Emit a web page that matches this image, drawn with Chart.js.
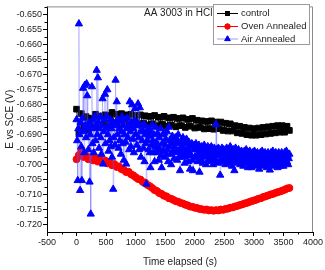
<!DOCTYPE html>
<html>
<head>
<meta charset="utf-8">
<script src="https://cdn.jsdelivr.net/npm/chart.js@4"></script>
<style>
  body { margin: 0; background: #fff; }
  canvas { display: block; }
</style>
</head>
<body>
<canvas id="myChart" width="325" height="270"></canvas>
<script>
// Tempos (s) para control e oven annealed
const time = [0, 40, 80, 120, 160, 200, 240, 280, 320, 360, 400, 440, 480, 520, 560, 600, 640, 680, 720, 760,
  800, 840, 880, 920, 960, 1000, 1040, 1080, 1120, 1160, 1200, 1240, 1280, 1320, 1360, 1400, 1440, 1480, 1520, 1560,
  1600, 1640, 1680, 1720, 1760, 1800, 1840, 1880, 1920, 1960, 2000, 2040, 2080, 2120, 2160, 2200, 2240, 2280, 2320, 2360,
  2400, 2440, 2480, 2520, 2560, 2600, 2640, 2680, 2720, 2760, 2800, 2840, 2880, 2920, 2960, 3000, 3040, 3080, 3120, 3160,
  3200, 3240, 3280, 3320, 3360, 3400, 3440, 3480, 3520, 3560, 3600];

// Tempos (s) para air annealed
const timeAir = [
  0, 10, 20, 30, 40, 50, 60, 70, 80, 90,
  100, 110, 120, 130, 140, 150, 160, 170, 180, 190,
  200, 210, 220, 230, 240, 250, 260, 270, 280, 290,
  300, 310, 320, 330, 340, 350, 360, 370, 380, 390,
  400, 410, 420, 430, 440, 450, 460, 470, 480, 490,
  500, 510, 520, 530, 540, 550, 560, 570, 580, 590,
  600, 610, 620, 630, 640, 650, 660, 670, 680, 690,
  700, 710, 720, 730, 740, 750, 760, 770, 780, 790,
  800, 810, 820, 830, 840, 850, 860, 870, 880, 890,
  900, 910, 920, 930, 940, 950, 960, 970, 980, 990,
  1000, 1010, 1020, 1030, 1040, 1050, 1060, 1070, 1080, 1090,
  1100, 1110, 1120, 1130, 1140, 1150, 1160, 1170, 1180, 1190,
  1200, 1210, 1220, 1230, 1240, 1250, 1260, 1270, 1280, 1290,
  1300, 1310, 1320, 1330, 1340, 1350, 1360, 1370, 1380, 1390,
  1400, 1410, 1420, 1430, 1440, 1450, 1460, 1470, 1480, 1490,
  1500, 1510, 1520, 1530, 1540, 1550, 1560, 1570, 1580, 1590,
  1600, 1610, 1620, 1630, 1640, 1650, 1660, 1670, 1680, 1690,
  1700, 1710, 1720, 1730, 1740, 1750, 1760, 1770, 1780, 1790,
  1800, 1810, 1820, 1830, 1840, 1850, 1860, 1870, 1880, 1890,
  1900, 1910, 1920, 1930, 1940, 1950, 1960, 1970, 1980, 1990,
  2000, 2010, 2020, 2030, 2040, 2050, 2060, 2070, 2080, 2090,
  2100, 2110, 2120, 2130, 2140, 2150, 2160, 2170, 2180, 2190,
  2200, 2210, 2220, 2230, 2240, 2250, 2260, 2270, 2280, 2290,
  2300, 2310, 2320, 2330, 2340, 2350, 2360, 2370, 2380, 2390,
  2400, 2410, 2420, 2430, 2440, 2450, 2460, 2470, 2480, 2490,
  2500, 2510, 2520, 2530, 2540, 2550, 2560, 2570, 2580, 2590,
  2600, 2610, 2620, 2630, 2640, 2650, 2660, 2670, 2680, 2690,
  2700, 2710, 2720, 2730, 2740, 2750, 2760, 2770, 2780, 2790,
  2800, 2810, 2820, 2830, 2840, 2850, 2860, 2870, 2880, 2890,
  2900, 2910, 2920, 2930, 2940, 2950, 2960, 2970, 2980, 2990,
  3000, 3010, 3020, 3030, 3040, 3050, 3060, 3070, 3080, 3090,
  3100, 3110, 3120, 3130, 3140, 3150, 3160, 3170, 3180, 3190,
  3200, 3210, 3220, 3230, 3240, 3250, 3260, 3270, 3280, 3290,
  3300, 3310, 3320, 3330, 3340, 3350, 3360, 3370, 3380, 3390,
  3400, 3410, 3420, 3430, 3440, 3450, 3460, 3470, 3480, 3490,
  3500, 3510, 3520, 3530, 3540, 3550, 3560, 3570, 3580, 3590,
  3600];

// Potencial E vs SCE (V)
const controlE = [
  -0.6815, -0.6895, -0.6830, -0.6875, -0.6840, -0.6885, -0.6845, -0.6868, -0.6832, -0.6875,
  -0.6840, -0.6864, -0.6834, -0.6870, -0.6836, -0.6826, -0.6860, -0.6832, -0.6866, -0.6830,
  -0.6858, -0.6834, -0.6868, -0.6832, -0.6860, -0.6836, -0.6866, -0.6834, -0.6862, -0.6837,
  -0.6868, -0.6839, -0.6864, -0.6836, -0.6871, -0.6842, -0.6866, -0.6839, -0.6872, -0.6844,
  -0.6868, -0.6842, -0.6874, -0.6846, -0.6870, -0.6844, -0.6876, -0.6849, -0.6872, -0.6846,
  -0.6878, -0.6852, -0.6876, -0.6854, -0.6881, -0.6856, -0.6880, -0.6854, -0.6882, -0.6858,
  -0.6880, -0.6858, -0.6886, -0.6862, -0.6888, -0.6864, -0.6888, -0.6870, -0.6894, -0.6872,
  -0.6896, -0.6876, -0.6900, -0.6878, -0.6902, -0.6880, -0.6902, -0.6878, -0.6900, -0.6876,
  -0.6898, -0.6874, -0.6896, -0.6872, -0.6894, -0.6870, -0.6892, -0.6870, -0.6892, -0.6872,
  -0.6886];

const ovenE = [-0.6982, -0.6968, -0.6950, -0.6975, -0.6970, -0.6982, -0.6976, -0.6986, -0.6978, -0.6990,
  -0.6982, -0.6992, -0.6986, -0.6996, -0.6992, -0.7002, -0.6998, -0.7008, -0.7006, -0.7015,
  -0.7018, -0.7025, -0.7024, -0.7032, -0.7036, -0.7042, -0.7048, -0.7050, -0.7058, -0.7060,
  -0.7068, -0.7072, -0.7078, -0.7085, -0.7088, -0.7095, -0.7098, -0.7104, -0.7106, -0.7112,
  -0.7114, -0.7118, -0.7122, -0.7124, -0.7128, -0.7130, -0.7134, -0.7136, -0.7140, -0.7141,
  -0.7144, -0.7145, -0.7148, -0.7149, -0.7151, -0.7150, -0.7153, -0.7152, -0.7154, -0.7152,
  -0.7153, -0.7150, -0.7151, -0.7148, -0.7147, -0.7144, -0.7143, -0.7140, -0.7138, -0.7135,
  -0.7133, -0.7130, -0.7128, -0.7125, -0.7122, -0.7120, -0.7117, -0.7114, -0.7112, -0.7108,
  -0.7106, -0.7103, -0.7100, -0.7098, -0.7095, -0.7092, -0.7090, -0.7087, -0.7084, -0.7080, -0.7078];

const airE = [
  -0.6850, -0.6920, -0.7053, -0.6880, -0.6530, -0.6900, -0.7086, -0.6860, -0.6940, -0.7053,
  -0.6845, -0.6745, -0.6890, -0.6960, -0.6735, -0.6870, -0.6910, -0.6730, -0.6770, -0.6880,
  -0.6950, -0.6860, -0.7058, -0.6900, -0.7165, -0.6870, -0.6740, -0.6930, -0.6850, -0.6960,
  -0.6880, -0.6840, -0.6920, -0.6870, -0.6685, -0.6900, -0.6710, -0.6860, -0.6945, -0.6880,
  -0.6840, -0.6910, -0.6965, -0.6870, -0.6780, -0.6998, -0.6890, -0.6850, -0.6765, -0.6930,
  -0.6880, -0.6840, -0.6750, -0.6900, -0.6955, -0.6870, -0.6920, -0.6850, -0.6940, -0.6880,
  -0.6975, -0.6860, -0.7082, -0.6910, -0.6870, -0.6935, -0.6718, -0.6860, -0.6790, -0.6900,
  -0.6850, -0.6945, -0.6880, -0.6920, -0.6855, -0.6965, -0.6890, -0.6840, -0.6930, -0.6870,
  -0.6985, -0.6900, -0.6850, -0.6925, -0.6998, -0.6880, -0.6845, -0.6910, -0.6870, -0.6950,
  -0.6790, -0.6890, -0.6940, -0.6860, -0.6800, -0.6915, -0.6880, -0.6960, -0.6855, -0.6813,
  -0.6900, -0.6870, -0.6935, -0.6860, -0.6797, -0.6910, -0.6950, -0.6810, -0.6890, -0.6975,
  -0.6870, -0.6920, -0.6885, -0.6945, -0.6865, -0.6990, -0.6900, -0.6930, -0.7065, -0.6895,
  -0.6920, -0.6880, -0.6950, -0.6905, -0.6960, -0.7010, -0.6890, -0.6935, -0.6868, -0.6920,
  -0.6960, -0.6900, -0.6990, -0.6940, -0.6875, -0.6925, -0.6960, -0.6895, -0.6945, -0.6985,
  -0.6910, -0.6950, -0.6880, -0.6970, -0.7010, -0.6930, -0.6900, -0.6955, -0.6895, -0.6975,
  -0.6935, -0.6915, -0.6965, -0.6890, -0.6950, -0.6990, -0.6875, -0.6940, -0.6920, -0.6965,
  -0.7000, -0.6930, -0.6905, -0.6955, -0.6915, -0.6980, -0.6940, -0.6910, -0.6960, -0.6930,
  -0.6985, -0.6920, -0.6900, -0.6955, -0.6975, -0.7020, -0.6945, -0.6925, -0.6965, -0.6940,
  -0.6910, -0.6975, -0.6950, -0.6995, -0.6930, -0.6960, -0.6915, -0.6970, -0.6945, -0.6990,
  -0.6925, -0.6960, -0.7015, -0.6940, -0.6970, -0.6930, -0.6985, -0.7020, -0.6950, -0.6935,
  -0.6975, -0.6950, -0.6930, -0.6975, -0.6945, -0.6990, -0.6960, -0.6935, -0.7025, -0.6970,
  -0.6950, -0.6985, -0.6940, -0.6965, -0.6995, -0.6955, -0.6935, -0.6975, -0.6960, -0.7000,
  -0.6945, -0.6970, -0.6940, -0.6985, -0.6960, -0.6945, -0.6990, -0.6965, -0.6940, -0.6980,
  -0.6955, -0.7000, -0.6970, -0.6945, -0.6985, -0.6960, -0.6866, -0.6950, -0.6990, -0.6965,
  -0.6945, -0.6995, -0.6970, -0.7035, -0.6955, -0.6980, -0.6945, -0.6990, -0.6965, -0.6950,
  -0.6985, -0.6960, -0.7000, -0.6970, -0.6945, -0.6980, -0.6960, -0.6995, -0.6950, -0.6975,
  -0.6940, -0.6985, -0.6960, -0.7005, -0.6975, -0.6950, -0.6990, -0.7020, -0.6965, -0.6945,
  -0.6980, -0.6955, -0.6995, -0.6970, -0.6950, -0.6985, -0.6960, -0.7000, -0.6975, -0.6955,
  -0.6990, -0.6965, -0.7005, -0.6980, -0.6955, -0.6990, -0.6970, -0.6950, -0.6995, -0.6975,
  -0.7010, -0.6960, -0.6985, -0.6955, -0.6995, -0.6970, -0.7010, -0.6980, -0.6960, -0.6995,
  -0.6970, -0.6955, -0.6990, -0.6965, -0.7005, -0.6980, -0.6960, -0.6995, -0.6970, -0.7015,
  -0.6985, -0.6960, -0.7000, -0.6975, -0.6955, -0.6990, -0.6965, -0.7005, -0.6980, -0.6960,
  -0.6995, -0.6970, -0.7010, -0.6985, -0.6960, -0.6995, -0.6975, -0.7018, -0.6985, -0.6960,
  -0.7000, -0.6975, -0.6955, -0.6990, -0.6970, -0.7005, -0.6980, -0.6960, -0.6995, -0.6970,
  -0.7010, -0.6985, -0.6960, -0.6995, -0.6975, -0.7005, -0.6980, -0.6960, -0.6990, -0.6970,
  -0.7005, -0.6985, -0.6960, -0.6995, -0.6975, -0.6955, -0.6990, -0.6970, -0.7000, -0.6980,
  -0.6965];

// Rótulos dos eixos
const xTicks = [-500, 0, 500, 1000, 1500, 2000, 2500, 3000, 3500, 4000];
const yTicks = [-0.650, -0.655, -0.660, -0.665, -0.670, -0.675, -0.680, -0.685, -0.690, -0.695,
  -0.700, -0.705, -0.710, -0.715, -0.720];
const seriesNames = ['control', 'Oven Annealed', 'Air Annealed'];
const noteText = 'AA 3003 in HCl';

const FONT = "'Liberation Sans', Arial, sans-serif";
Chart.defaults.font.family = FONT;
Chart.defaults.color = '#222';

const pts = (xs, ys) => xs.map((x, i) => ({ x: x, y: ys[i] }));

// Marcas menores, moldura, nota e legenda
const extras = {
  id: 'extras',
  afterDraw(chart) {
    const c = chart.ctx;
    const a = chart.chartArea;
    const sx = chart.scales.x, sy = chart.scales.y;
    c.save();
    // moldura superior e direita
    c.strokeStyle = '#8a8a8a';
    c.lineWidth = 1;
    c.beginPath();
    c.moveTo(a.left, a.top + 0.5);
    c.lineTo(a.right - 0.5, a.top + 0.5);
    c.lineTo(a.right - 0.5, a.bottom);
    c.stroke();
    // marcas menores
    c.strokeStyle = '#000';
    c.beginPath();
    for (let i = 0; i < xTicks.length - 1; i++) {
      const px = Math.round(sx.getPixelForValue((xTicks[i] + xTicks[i + 1]) / 2)) + 0.5;
      c.moveTo(px, a.bottom);
      c.lineTo(px, a.bottom + 2.5);
    }
    for (let i = 0; i < yTicks.length - 1; i++) {
      const py = Math.round(sy.getPixelForValue((yTicks[i] + yTicks[i + 1]) / 2)) + 0.5;
      c.moveTo(a.left, py);
      c.lineTo(a.left - 2.5, py);
    }
    const pyTop = Math.round(sy.getPixelForValue(yTicks[0] + 0.0025)) + 0.5;
    if (pyTop > a.top) { c.moveTo(a.left, pyTop); c.lineTo(a.left - 2.5, pyTop); }
    c.stroke();

    // nota
    c.fillStyle = '#222';
    c.font = '10px ' + FONT;
    c.textBaseline = 'middle';
    c.textAlign = 'left';
    c.fillText(noteText, 144, 13);

    // legenda
    const bx = 213, by = 4, bw = 96, bh = 40;
    c.fillStyle = '#fff';
    c.fillRect(bx, by, bw, bh);
    c.strokeStyle = '#9a9a9a';
    c.strokeRect(bx + 0.5, by + 0.5, bw, bh);
    const rows = [13, 26, 38.5];
    const legendRadius = [2.8, 2.6, 3.2];
    const legendLine = ['#000', '#ff0000', 'rgba(90,90,255,0.6)'];
    chart.data.datasets.forEach((ds, i) => {
      const y = rows[i];
      c.strokeStyle = legendLine[i];
      c.lineWidth = 1;
      c.beginPath();
      c.moveTo(217, y + 0.5);
      c.lineTo(238, y + 0.5);
      c.stroke();
      Chart.helpers.drawPoint(c, {
        pointStyle: ds.pointStyle,
        radius: legendRadius[i],
        borderWidth: 1
      }, 227.5, y + 0.5);
      c.fillStyle = ds.pointBackgroundColor;
      c.strokeStyle = ds.pointBorderColor;
      c.fill();
      c.stroke();
      c.fillStyle = '#222';
      c.font = '9.5px ' + FONT;
      c.fillText(seriesNames[i], 241, y + 0.5);
    });
    c.restore();
  }
};

const ctx = document.getElementById('myChart').getContext('2d');
new Chart(ctx, {
  type: 'scatter',
  data: {
    datasets: [
      {
        label: seriesNames[0],
        data: pts(time, controlE),
        showLine: true,
        borderColor: '#000',
        borderWidth: 1,
        pointStyle: 'rect',
        pointRadius: 4,
        pointBorderWidth: 1,
        pointBackgroundColor: '#000',
        pointBorderColor: '#000',
        order: 3
      },
      {
        label: seriesNames[1],
        data: pts(time, ovenE),
        showLine: true,
        borderColor: '#ff0000',
        borderWidth: 1,
        pointStyle: 'circle',
        pointRadius: 3.5,
        pointBorderWidth: 1,
        pointBackgroundColor: '#ff0000',
        pointBorderColor: '#ff0000',
        order: 2
      },
      {
        label: seriesNames[2],
        data: pts(timeAir, airE),
        showLine: true,
        borderColor: 'rgba(90,90,255,0.3)',
        borderWidth: 1,
        pointStyle: 'triangle',
        pointRadius: 4.2,
        pointBorderWidth: 1,
        pointBackgroundColor: '#0000ff',
        pointBorderColor: '#0000ff',
        order: 1
      }
    ]
  },
  options: {
    responsive: false,
    animation: false,
    layout: { padding: { top: 3, right: 12, left: 0, bottom: 0 } },
    plugins: {
      legend: { display: false },
      tooltip: { enabled: false }
    },
    scales: {
      x: {
        type: 'linear',
        min: -500,
        max: 4000,
        afterBuildTicks: s => { s.ticks = xTicks.map(v => ({ value: v })); },
        afterFit: s => { s.height = 38; },
        grid: { drawOnChartArea: false, tickLength: 4, color: '#000', tickColor: '#000' },
        border: { color: '#000', width: 1 },
        ticks: {
          font: { size: 9 },
          color: '#222',
          padding: 1,
          maxRotation: 0,
          autoSkip: false,
          callback: v => String(v)
        },
        title: {
          display: true,
          text: 'Time elapsed (s)',
          font: { size: 10 },
          color: '#222',
          padding: { top: 0, bottom: 2 }
        }
      },
      y: {
        type: 'linear',
        min: -0.7225,
        max: -0.6472,
        afterBuildTicks: s => { s.ticks = yTicks.map(v => ({ value: v })); },
        afterFit: s => { s.width = 47; },
        grid: { drawOnChartArea: false, tickLength: 4, color: '#000', tickColor: '#000' },
        border: { color: '#000', width: 1 },
        ticks: {
          font: { size: 9 },
          color: '#222',
          padding: 1,
          autoSkip: false,
          callback: v => v.toFixed(3)
        },
        title: {
          display: true,
          text: 'E vs SCE (V)',
          font: { size: 10 },
          color: '#222',
          padding: { top: 4, bottom: 0 }
        }
      }
    }
  },
  plugins: [extras]
});
</script>
</body>
</html>
